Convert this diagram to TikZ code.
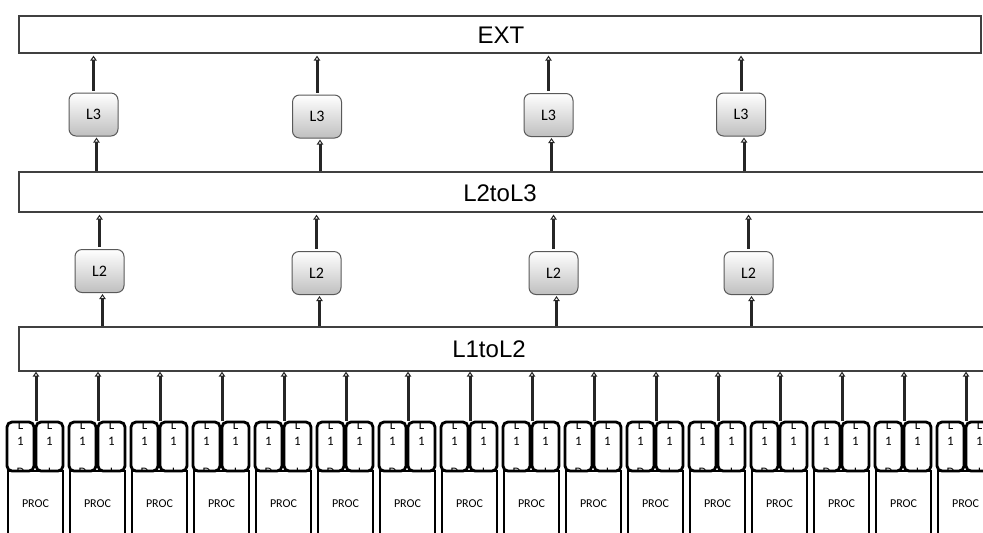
\documentclass[tikz,border=0pt]{standalone}
\usepackage{fontspec}
\setmainfont{Liberation Sans}
\newfontfamily\calfont{Carlito}
\usetikzlibrary{arrows.meta,calc}

\tikzset{
  bar/.style={draw=black!75,line width=0.6pt,fill=white,inner sep=0pt},
  barlabel/.style={font=\fontsize{12}{14}\selectfont},
  cache/.style={draw=black!65,line width=0.5pt,rounded corners=3.5pt,top color=white,bottom color=black!25,
    minimum width=24.5pt,minimum height=21.5pt,inner sep=0pt,font=\calfont\fontsize{8}{9}\selectfont},
  procbox/.style={draw=black,line width=1.4pt,fill=white,minimum width=27.5pt,minimum height=33pt,
    inner sep=0pt,font=\calfont\fontsize{6}{7}\selectfont},
  l1box/.style={draw=black,line width=1.4pt,fill=white,rounded corners=2.5pt,minimum width=13.5pt,
    minimum height=24.5pt,inner sep=0pt,
    path picture={
      \node[font=\calfont\fontsize{6.5}{7}\selectfont] at ([yshift=-1.5pt]path picture bounding box.north) {L};
      \node[font=\calfont\fontsize{6.5}{7}\selectfont] at ([yshift=-9.5pt]path picture bounding box.north) {1};
      \node[font=\calfont\fontsize{6.5}{7}\selectfont] at ([yshift=-0.5pt]path picture bounding box.south) {#1};
    }},
  link/.style={draw=black!85,line width=1.5pt,-{Triangle[open,length=2.5pt,width=3.2pt,line width=0.5pt]}}
}

\begin{document}
\begin{tikzpicture}[x=0.5pt,y=-0.5pt]
  \clip (0,0) rectangle (983,532);

  % the three buses
  \node[bar,minimum width=481pt,minimum height=18.5pt] (ext) at (500,34.5) {};
  \node[bar,minimum width=492pt,minimum height=20pt] (l2l3) at (511,192) {};
  \node[bar,minimum width=492pt,minimum height=22pt] (l1l2) at (511,349) {};
  \node[barlabel] (ext-txt) at (501,35) {EXT};
  \node[barlabel] (l2l3-txt) at (500,193) {L2toL3};
  \node[barlabel] (l1l2-txt) at (489,349) {L1toL2};

  % L3 caches
  \node[cache] (l3-1) at (93.5,114.5) {L3};
  \node[cache] (l3-2) at (317,116.5) {L3};
  \node[cache] (l3-3) at (548.5,115) {L3};
  \node[cache] (l3-4) at (741,114.5) {L3};

  % L2 caches
  \node[cache] (l2-1) at (99.5,271) {L2};
  \node[cache] (l2-2) at (316.5,273) {L2};
  \node[cache] (l2-3) at (553.5,273) {L2};
  \node[cache] (l2-4) at (748.5,273) {L2};

  \foreach \k in {1,...,4} {
    \draw[link,shorten <=1pt,shorten >=1pt] (l3-\k.north) -- (l3-\k.north |- ext.south);
    \draw[link,shorten >=0.5pt] ([xshift=1.5pt]l3-\k.south |- l2l3.north) -- ([xshift=1.5pt]l3-\k.south);
    \draw[link,shorten <=1pt,shorten >=1pt] (l2-\k.north) -- (l2-\k.north |- l2l3.south);
    \draw[link,shorten >=0.5pt] ([xshift=1.5pt]l2-\k.south |- l1l2.north) -- ([xshift=1.5pt]l2-\k.south);
  }

  % processors with their L1 caches
  \foreach \i in {0,...,15} {
    \pgfmathsetmacro\gx{7+62*\i}
    \node[procbox] (proc-\i) at (\gx+28.5,504) {PROC};
    \node[l1box=D] (l1d-\i) at (\gx+13.5,446.5) {};
    \node[l1box=I] (l1i-\i) at (\gx+42.5,446.5) {};
    \coordinate (top-\i) at ($(l1d-\i.north east)!0.5!(l1i-\i.north west)+(1,0)$);
    \draw[link] (top-\i) -- (top-\i |- l1l2.south);
  }
\end{tikzpicture}
\end{document}
